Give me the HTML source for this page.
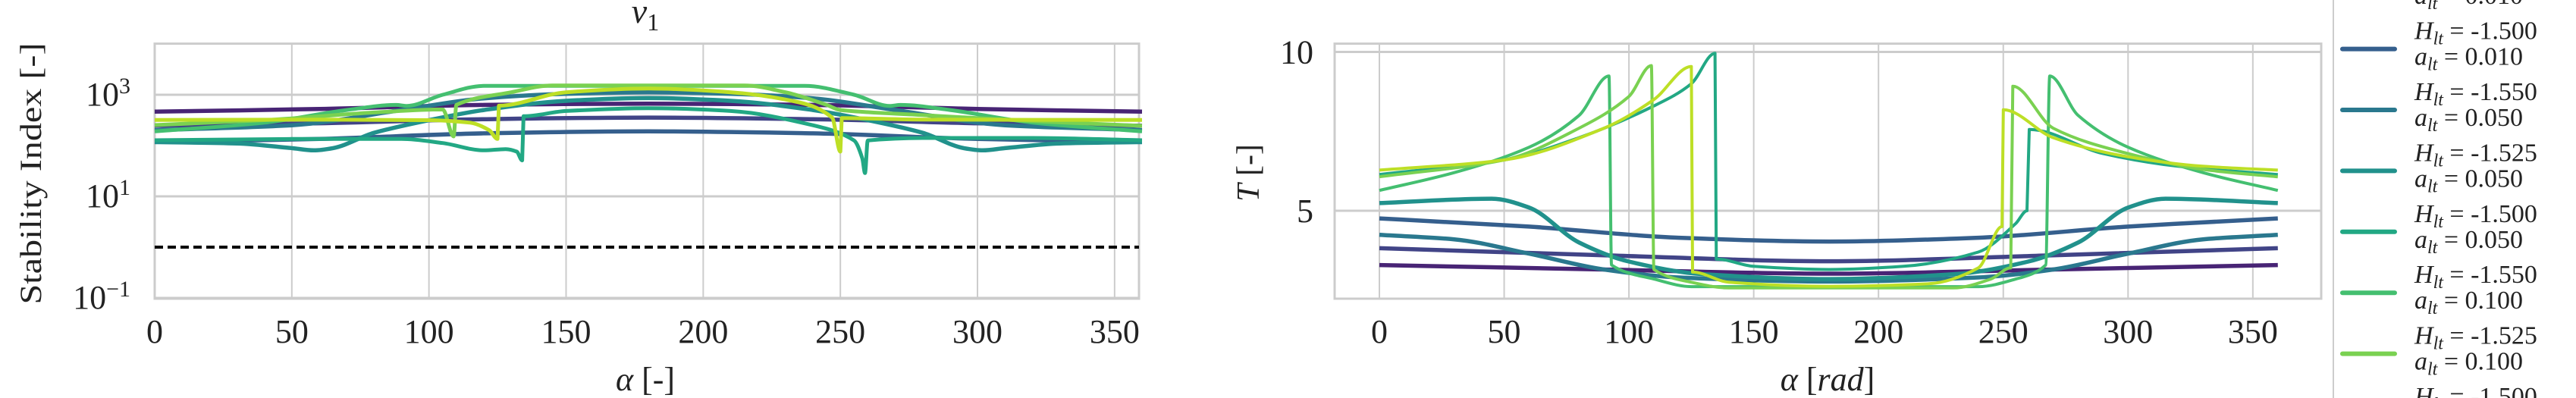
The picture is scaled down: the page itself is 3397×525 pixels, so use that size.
<!DOCTYPE html>
<html><head><meta charset="utf-8"><style>
html,body{margin:0;padding:0;background:#fff;width:3397px;height:525px;overflow:hidden;}
svg{display:block;font-family:"Liberation Serif",serif;overflow:hidden;}
</style></head><body>
<svg id="fig" width="3397" height="525" viewBox="0 0 3397 525" xmlns="http://www.w3.org/2000/svg">
<g id="left"></g>
<g id="right"></g>
<g id="legend"></g>
</svg>
<script>
const colors = ["#482475","#414487","#355f8d","#2a788e","#21918c","#22a884","#44bf70","#7ad151","#bddf26"];
const Hlt = ["-1.550","-1.525","-1.500","-1.550","-1.525","-1.500","-1.550","-1.525","-1.500"];
const alt = ["0.010","0.010","0.010","0.050","0.050","0.050","0.100","0.100","0.100"];
const xTicks = [0,50,100,150,200,250,300,350];
const siTickExp = [-1,1,3];
const tTicks = [5,10];

// Left panel: stability index
const siA0 = [0,60,120,180,240,300,360];
const siV0 = [465,525,630,668,630,525,465];
const siA1 = [0,60,120,180,240,300,360];
const siV1 = [245,275,331,355,331,275,245];
const siA2 = [0,60,120,180,240,300,360];
const siV2 = [117,135,174,191,174,135,117];
const siA3 = [0,50,90,120,150,180,210,240,270,310,360];
const siV3 = [201,251,501,851,1047,1122,1047,851,501,251,201];
const siA4 = [0,30,50,58,65,80,100,120,150,180,210,240,260,280,295,302,310,330,360];
const siV4 = [117,110,89,80.5,89,178,316,501,759,861,759,501,316,178,89,80.5,89,110,117];
const siA5 = [0,50,90,105,120,128,132,134,134.5,150,180,210,240,255,258,259,260,280,320,360];
const siV5 = [127,135,135,112,80.5,85,76,51,378,479,545,479,251,126,56,28.7,126,141,141,127];
const siA6 = [0,40,70,88,92,105,120,237,255,268,272,290,320,360];
const siV6 = [190,282,501,631,603,1000,1493,1493,1000,603,631,501,282,190];
const siA7 = [0,40,80,105,109,110,130,145,215,230,245,250,280,320,360];
const siV7 = [253,316,447,514,151,631,1122,1528,1528,1122,631,501,398,302,244];
const siA8 = [0,60,100,115,122,125,125.5,150,180,210,235,247,250,250.5,280,360];
const siV8 = [318,324,316,282,200,135,610,1122,1330,1122,708,355,76,347,324,318];
const siThreshold = 1;

// Right panel: period T
const tA0 = [0,90,180,270,360];
const tV0 = [3.29,3.15,3.02,3.15,3.29];
const tA1 = [0,90,180,270,360];
const tV1 = [3.82,3.6,3.41,3.6,3.82];
const tA2 = [0,60,120,180,240,300,360];
const tV2 = [4.76,4.5,4.15,4.03,4.15,4.5,4.76];
const tA3 = [0,30,60,90,120,180,240,270,300,330,360];
const tV3 = [4.24,4.1,3.65,3.15,2.9,2.77,2.9,3.15,3.65,4.1,4.24];
const tA4 = [0,45,60,80,100,130,180,230,260,280,300,315,360];
const tV4 = [5.24,5.38,5.1,4.0,3.4,3.0,2.85,3.0,3.4,4.0,5.1,5.38,5.24];
const tA5 = [0,50,80,110,125,134.5,135,150,180,210,240,255,259.5,260.4,290,320,360];
const tV5 = [6.14,6.6,7.3,8.3,9.0,9.96,3.48,3.25,3.15,3.25,3.7,4.6,5.0,7.56,6.8,6.4,6.14];
const tA6 = [0,30,60,80,92,93,110,125,240,255,267,268.6,280,300,330,360];
const tV6 = [5.64,6.2,7.0,8.0,9.24,3.29,2.85,2.61,2.61,2.85,3.29,9.24,8.0,7.0,6.2,5.64];
const tA7 = [0,50,80,100,109,110,125,140,230,245,253,253.8,270,300,330,360];
const tV7 = [6.07,6.6,7.6,8.6,9.57,3.15,2.75,2.57,2.57,2.85,3.2,8.92,7.6,6.8,6.3,6.07];
const tA8 = [0,50,90,110,125,125.5,140,180,220,240,249.5,250,270,300,330,360];
const tV8 = [6.28,6.6,7.6,8.5,9.54,3.07,2.75,2.62,2.7,3.2,4.5,8.18,7.3,6.7,6.4,6.28];

const siA=[siA0,siA1,siA2,siA3,siA4,siA5,siA6,siA7,siA8];
const siV=[siV0,siV1,siV2,siV3,siV4,siV5,siV6,siV7,siV8];
const tA=[tA0,tA1,tA2,tA3,tA4,tA5,tA6,tA7,tA8];
const tV=[tV0,tV1,tV2,tV3,tV4,tV5,tV6,tV7,tV8];

const NS="http://www.w3.org/2000/svg";
function mk(tag,attrs,parent){const e=document.createElementNS(NS,tag);for(const k in attrs)e.setAttribute(k,attrs[k]);parent.appendChild(e);return e;}

// monotone cubic path through pixel points
function monoPath(xs,ys){
  const n=xs.length;const d=[],m=new Array(n).fill(0);
  for(let i=0;i<n-1;i++){const dx=xs[i+1]-xs[i];d.push(dx>0.0001?(ys[i+1]-ys[i])/dx:0);}
  m[0]=d[0];m[n-1]=d[n-2];
  for(let i=1;i<n-1;i++){ if(d[i-1]*d[i]<=0) m[i]=0; else {m[i]=2/(1/d[i-1]+1/d[i]);} }
  let p='M'+xs[0].toFixed(1)+','+ys[0].toFixed(1);
  for(let i=0;i<n-1;i++){
    const dx=xs[i+1]-xs[i];
    if(dx<3){p+=' L'+xs[i+1].toFixed(1)+','+ys[i+1].toFixed(1);continue;}
    const m0=(i>0&&xs[i]-xs[i-1]<3)?0:m[i];
    const m1=(i+2<n&&xs[i+2]-xs[i+1]<3)?0:m[i+1];
    p+=' C'+(xs[i]+dx/3).toFixed(1)+','+(ys[i]+m0*dx/3).toFixed(1)+' '+(xs[i+1]-dx/3).toFixed(1)+','+(ys[i+1]-m1*dx/3).toFixed(1)+' '+xs[i+1].toFixed(1)+','+ys[i+1].toFixed(1);
  }
  return p;
}

// axis functions
const L={x0:204,x1:1502,y0:57.6,y1:394};
function lx(a){return 204+a*3.6167;}
function ly(v){return 125-(Math.log10(v)-3)*67;}
const R={x0:1760,x1:3061,y0:57.6,y1:394};
function rx(a){return 1819+a*3.291;}
function ry(t){return 278-(t-5)*41.9;}

const left=document.getElementById('left');
const right=document.getElementById('right');
const legend=document.getElementById('legend');

// ---- left panel ----
let el;
xTicks.forEach(v=>{
  el=mk('line',{x1:lx(v),x2:lx(v),y1:L.y0,y2:L.y1,stroke:'#cccccc','stroke-width':2},left);
  
  
  el=mk('text',{x:lx(v),y:452,'font-size':44,'text-anchor':'middle',fill:'#222'},left);
  el.textContent=v;
  
  
});
siTickExp.forEach(e=>{
  const y=ly(Math.pow(10,e));
  el=mk('line',{x1:L.x0,x2:L.x1,y1:y,y2:y,stroke:'#cccccc','stroke-width':3},left);
  
  
  el=mk('text',{x:172,y:y+14,'font-size':44,'text-anchor':'end',fill:'#222'},left);
  el.innerHTML='10<tspan dy="-16" font-size="30">'+(e<0?'\u2212'+(-e):e)+'</tspan>';
  
  
});
el=mk('rect',{x:L.x0,y:L.y0,width:L.x1-L.x0,height:L.y1-L.y0,fill:'none',stroke:'#cccccc','stroke-width':3},left);


el=mk('line',{x1:L.x0,x2:L.x1,y1:ly(siThreshold),y2:ly(siThreshold),stroke:'#000','stroke-width':4,'stroke-dasharray':'11 6'},left);


for(let i=0;i<9;i++){
  const xs=siA[i].map(lx), ys=siV[i].map(ly);
  el=mk('path',{d:monoPath(xs,ys),fill:'none',stroke:colors[i],'stroke-width':i<5?5.5:5,'stroke-linejoin':'round'},left);
  
  
}
el=mk('text',{x:851,y:30,'font-size':46,'text-anchor':'middle','font-style':'italic',fill:'#222'},left);
el.innerHTML='\u03BD<tspan dy="10" font-size="32" font-style="normal">1</tspan>';


el=mk('text',{x:851,y:515,'font-size':44,'text-anchor':'middle',fill:'#222'},left);
el.innerHTML='<tspan font-style="italic">\u03B1</tspan> [-]';


el=mk('text',{x:0,y:0,'font-size':40,'text-anchor':'middle',fill:'#222',transform:'translate(54,229) rotate(-90)',textLength:345,lengthAdjust:'spacingAndGlyphs'},left);
el.textContent='Stability Index [-]';



// ---- right panel ----
xTicks.forEach(v=>{
  el=mk('line',{x1:rx(v),x2:rx(v),y1:R.y0,y2:R.y1,stroke:'#cccccc','stroke-width':2},right);
  
  
  el=mk('text',{x:rx(v),y:452,'font-size':44,'text-anchor':'middle',fill:'#222'},right);
  el.textContent=v;
  
  
});
tTicks.forEach(t=>{
  el=mk('line',{x1:R.x0,x2:R.x1,y1:ry(t),y2:ry(t),stroke:'#cccccc','stroke-width':3},right);
  
  
  el=mk('text',{x:1732,y:ry(t)+15,'font-size':44,'text-anchor':'end',fill:'#222'},right);
  el.textContent=t;
  
  
});
el=mk('rect',{x:R.x0,y:R.y0,width:R.x1-R.x0,height:R.y1-R.y0,fill:'none',stroke:'#cccccc','stroke-width':3},right);


for(let i=0;i<9;i++){
  const xs=tA[i].map(rx), ys=tV[i].map(ry);
  el=mk('path',{d:monoPath(xs,ys),fill:'none',stroke:colors[i],'stroke-width':i<5?5.5:4,'stroke-linejoin':'round'},right);
  
  
}
el=mk('text',{x:2410,y:515,'font-size':44,'text-anchor':'middle',fill:'#222'},right);
el.innerHTML='<tspan font-style="italic">\u03B1</tspan> [<tspan font-style="italic">rad</tspan>]';


el=mk('text',{x:0,y:0,'font-size':42,'text-anchor':'middle',fill:'#222',transform:'translate(1660,228) rotate(-90)'},right);
el.innerHTML='<tspan font-style="italic">T</tspan> [-]';



// ---- legend ----
el=mk('line',{x1:3077,x2:3077,y1:0,y2:525,stroke:'#cccccc','stroke-width':2},legend);


for(let i=0;i<9;i++){
  const ly0=64.6+(i-2)*80.4;
  if(ly0<-60||ly0>560) continue;
  const g=mk('g',{},legend);
  
  
  mk('line',{x1:3089,x2:3158,y1:ly0,y2:ly0,stroke:colors[i],'stroke-width':6,'stroke-linecap':'round'},g);
  const t1=mk('text',{x:3184,y:ly0-13,'font-size':34,fill:'#222'},g);
  t1.innerHTML='<tspan font-style="italic">H</tspan><tspan dy="7" font-size="24" font-style="italic">lt</tspan><tspan dy="-7"> = '+Hlt[i]+'</tspan>';
  if(ly0+21<540){
    const t2=mk('text',{x:3184,y:ly0+21,'font-size':34,fill:'#222'},g);
    t2.innerHTML='<tspan font-style="italic">a</tspan><tspan dy="7" font-size="24" font-style="italic">lt</tspan><tspan dy="-7"> = '+alt[i]+'</tspan>';
  }
}
</script>
</body></html>
